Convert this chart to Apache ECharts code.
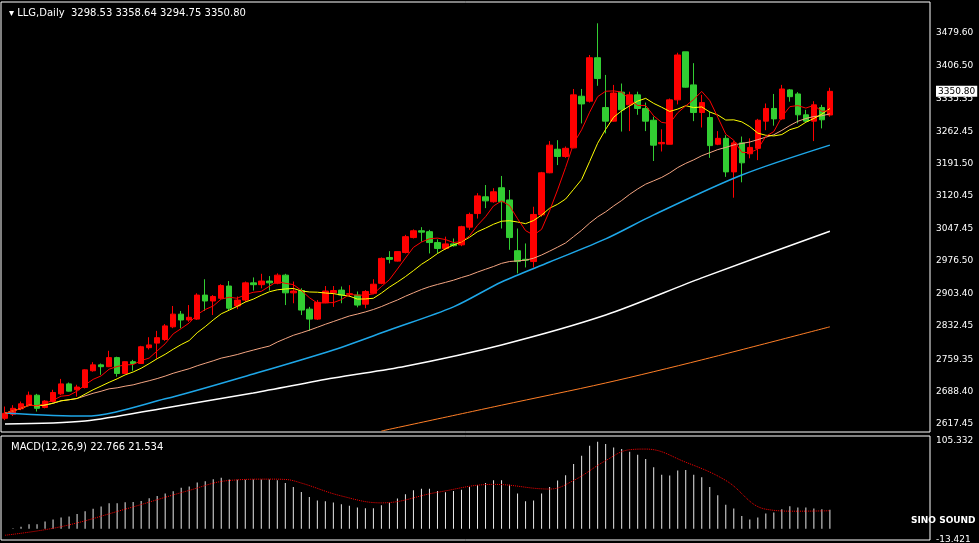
<!DOCTYPE html>
<html><head><meta charset="utf-8">
<script src="https://cdn.jsdelivr.net/npm/echarts@6/dist/echarts.min.js"></script>
<style>html,body{margin:0;padding:0;background:#000}#c{width:979px;height:543px}</style>
</head><body><div id="c"></div>
<script>
// OHLC: [open, close, low, high]
const candles = [
[2629,2640,2625,2655],[2638,2651,2634,2658],[2650,2661,2647,2666],[2658,2680,2655,2688],[2680,2651,2644,2683],
[2653,2667,2651,2669],[2666,2686,2664,2692],[2683,2705,2680,2716],[2705,2689,2688,2708],[2692,2698,2677,2703],
[2697,2736,2695,2737],[2734,2747,2732,2753],[2747,2743,2725,2750],[2743,2763,2742,2778],[2763,2728,2721,2765],
[2728,2754,2727,2755],[2754,2750,2734,2758],[2750,2787,2749,2789],[2785,2791,2781,2808],[2795,2807,2761,2822],
[2803,2833,2800,2837],[2831,2859,2828,2877],[2859,2846,2828,2866],[2846,2852,2842,2879],[2848,2901,2846,2905],
[2901,2888,2866,2936],[2888,2898,2857,2901],[2894,2922,2892,2925],[2921,2872,2868,2932],[2877,2890,2870,2898],
[2890,2928,2886,2931],[2928,2924,2911,2940],[2924,2932,2916,2948],[2932,2928,2911,2943],[2927,2945,2925,2949],
[2945,2906,2879,2948],[2906,2910,2883,2931],[2911,2868,2857,2916],[2870,2848,2822,2875],[2848,2885,2846,2890],
[2884,2910,2883,2921],[2906,2911,2875,2921],[2912,2901,2883,2920],[2903,2904,2897,2923],[2901,2879,2874,2909],
[2881,2909,2872,2912],[2905,2925,2903,2936],[2927,2982,2925,2984],[2984,2980,2971,2998],[2976,2997,2975,2998],
[2995,3030,2993,3034],[3028,3043,3026,3046],[3043,3040,3019,3051],[3041,3017,2993,3045],[3017,3004,2993,3024],
[3004,3014,3001,3030],[3014,3010,3008,3026],[3012,3052,3009,3054],[3051,3079,3045,3083],[3081,3120,3070,3126],
[3118,3109,3093,3144],[3107,3129,3105,3137],[3138,3107,3048,3164],[3111,3028,3001,3133],[2999,2975,2949,3048],
[2980,2978,2962,3015],[2975,3079,2962,3096],[3078,3171,3074,3173],[3171,3232,3170,3241],[3223,3207,3188,3243],
[3207,3225,3204,3229],[3226,3343,3225,3356],[3340,3323,3280,3356],[3329,3425,3326,3431],[3425,3379,3363,3501],
[3315,3285,3258,3387],[3285,3347,3284,3365],[3349,3310,3262,3368],[3321,3343,3263,3350],[3343,3313,3299,3350],
[3313,3285,3263,3326],[3287,3232,3197,3295],[3235,3238,3218,3267],[3234,3332,3234,3335],[3332,3431,3322,3436],
[3438,3360,3359,3438],[3365,3304,3285,3413],[3304,3326,3271,3343],[3293,3231,3204,3306],[3234,3247,3232,3263],
[3247,3173,3162,3254],[3173,3237,3116,3241],[3237,3193,3150,3251],[3213,3227,3203,3247],[3225,3287,3199,3290],
[3285,3313,3265,3324],[3313,3290,3275,3345],[3290,3356,3288,3365],[3354,3339,3328,3356],[3345,3299,3280,3349],
[3299,3285,3282,3310],[3285,3321,3241,3329],[3315,3288,3269,3321],[3298.53,3350.80,3294.75,3358.64]
];
const maBlue = [[0,2641],[10,2634],[20,2672],[31,2727],[41,2780],[48,2824],[56,2875],[62,2930],[68,2974],[75,3025],[81,3078],[92,3166],[103,3232]];
const maWhite = [[0,2616.5],[10,2623],[20,2652],[31,2685],[41,2718],[50,2744],[62,2791],[75,2857],[87,2939],[103,3042]];
const maOrange = [[47,2601],[62,2658],[75,2707],[87,2758],[103,2831]];
const macdHist = [0,0.4,2.4,5.2,5.2,8.7,11.1,13.5,14.7,17.5,21.0,23.8,26.6,30.6,30.6,31.7,32.1,33.3,36.5,39.3,
42.1,44.8,49.2,50.8,55.6,57.1,59.5,61.1,59.1,58.7,58.7,59.1,59.1,59.1,58.3,54.8,50.0,44.0,38.1,33.7,
32.9,31.3,29.4,27.4,25.4,24.6,24.6,28.2,31.0,36.1,41.3,46.0,48.0,48.0,45.2,43.7,45.2,46.8,50.0,52.4,
54.8,58.3,58.3,52.8,42.1,32.9,33.7,42.1,50.0,57.9,64.3,77.8,87.7,99.6,104.4,101.6,97.6,95.6,92.5,88.9,
83.7,73.8,64.7,63.9,69.8,70.6,64.7,61.9,50.0,40.1,28.6,24.2,15.1,11.1,13.5,18.3,19.4,23.4,27.0,25.4,
25.4,24.2,23.4,22.766];
const macdSignal = [[0,-7.9],[7,2.4],[15,23.4],[23,46.0],[28,57.9],[33,59.5],[35,59.1],[37,54.8],[42,39.3],[47,31.0],
[54,43.7],[61,53.2],[68,47.6],[71,57.9],[75,81.7],[78,94.8],[80,95.6],[85,79.8],[90,57.9],[95,23.4],[99,21.0],[103,21.534]];
const priceTicks = [3479.60,3406.50,3335.35,3262.45,3191.50,3120.45,3047.45,2976.50,2903.40,2832.45,2759.35,2688.40,2617.45];
const macdTicks = [105.332,-13.421];
const lastPrice = 3350.80;
const nCats = 116;

const cats = Array.from({length:nCats},(_,i)=>String(i));
const closes = candles.map(c=>c[1]);
function ma(n){return closes.map((_,i)=>{const s=Math.max(0,i-n+1);let t=0;for(let j=s;j<=i;j++)t+=closes[j];return +(t/(i-s+1)).toFixed(2);});}

const lblStyle = {show:true,position:'end',color:'#fff',fontSize:9,fontFamily:'DejaVu Sans',distance:6};
const ch = echarts.init(document.getElementById('c'));
ch.setOption({
  backgroundColor:'#000', animation:false,
  title:[
    {text:'▾ LLG,Daily  3298.53 3358.64 3294.75 3350.80',left:4,top:3,textStyle:{color:'#fff',fontSize:10,fontWeight:'normal',fontFamily:'DejaVu Sans'}},
    {text:'MACD(12,26,9) 22.766 21.534',left:6,top:437,textStyle:{color:'#fff',fontSize:10,fontWeight:'normal',fontFamily:'DejaVu Sans'}},
    {text:'SINO SOUND',left:906,top:511,textStyle:{color:'#fff',fontSize:9,fontWeight:'bold',fontFamily:'DejaVu Sans'}}
  ],
  grid:[
    {left:1,right:49,top:2,height:430,show:true,borderColor:'#fff',borderWidth:1},
    {left:1,right:49,top:436,height:104,show:true,borderColor:'#fff',borderWidth:1}
  ],
  xAxis:[
    {type:'category',data:cats,gridIndex:0,boundaryGap:true,axisLine:{show:false},axisTick:{show:false},axisLabel:{show:false}},
    {type:'category',data:cats,gridIndex:1,boundaryGap:true,axisLine:{show:false},axisTick:{show:false},axisLabel:{show:false}}
  ],
  yAxis:[
    {type:'value',gridIndex:0,min:2598.8,max:3548,scale:true,splitLine:{show:false},axisLine:{show:false},axisTick:{show:false},axisLabel:{show:false}},
    {type:'value',gridIndex:1,min:-13.6,max:111.3,splitLine:{show:false},axisLine:{show:false},axisTick:{show:false},axisLabel:{show:false}}
  ],
  series:[
    {type:'line',data:maOrange,xAxisIndex:0,yAxisIndex:0,symbol:'none',smooth:0.3,lineStyle:{color:'#ff7f27',width:1}},
    {type:'line',data:maWhite,xAxisIndex:0,yAxisIndex:0,symbol:'none',smooth:0.3,lineStyle:{color:'#ffffff',width:1.5}},
    {type:'line',data:maBlue,xAxisIndex:0,yAxisIndex:0,symbol:'none',smooth:0.3,lineStyle:{color:'#1ea7e8',width:1.5}},
    {type:'line',data:ma(34),symbol:'none',lineStyle:{color:'#f4a582',width:1}},
    {type:'line',data:ma(10),symbol:'none',lineStyle:{color:'#ffff00',width:1}},
    {type:'line',data:ma(5),symbol:'none',lineStyle:{color:'#ff0000',width:1}},
    {type:'candlestick',data:candles,barWidth:6,
      itemStyle:{color:'#ff0000',color0:'#32cd32',borderColor:'#ff0000',borderColor0:'#32cd32',borderWidth:1},
      markLine:{silent:true,symbol:'none',lineStyle:{color:'rgba(0,0,0,0)'},
        data:priceTicks.map(v=>({yAxis:v,label:Object.assign({},lblStyle,{formatter:v.toFixed(2)})}))
          .concat([{yAxis:lastPrice,label:Object.assign({},lblStyle,{formatter:lastPrice.toFixed(2),color:'#000',backgroundColor:'#fff',padding:[1,2]})}])}},
    {type:'bar',data:macdHist,xAxisIndex:1,yAxisIndex:1,barWidth:1,itemStyle:{color:'#e8e8e8'},
      markLine:{silent:true,symbol:'none',lineStyle:{color:'rgba(0,0,0,0)'},
        data:macdTicks.map(v=>({yAxis:v,label:Object.assign({},lblStyle,{formatter:String(v)})}))}},
    {type:'line',data:macdSignal,xAxisIndex:1,yAxisIndex:1,symbol:'none',smooth:0.4,lineStyle:{color:'#ff0000',width:1,type:'dotted'}}
  ]
});
</script></body></html>
